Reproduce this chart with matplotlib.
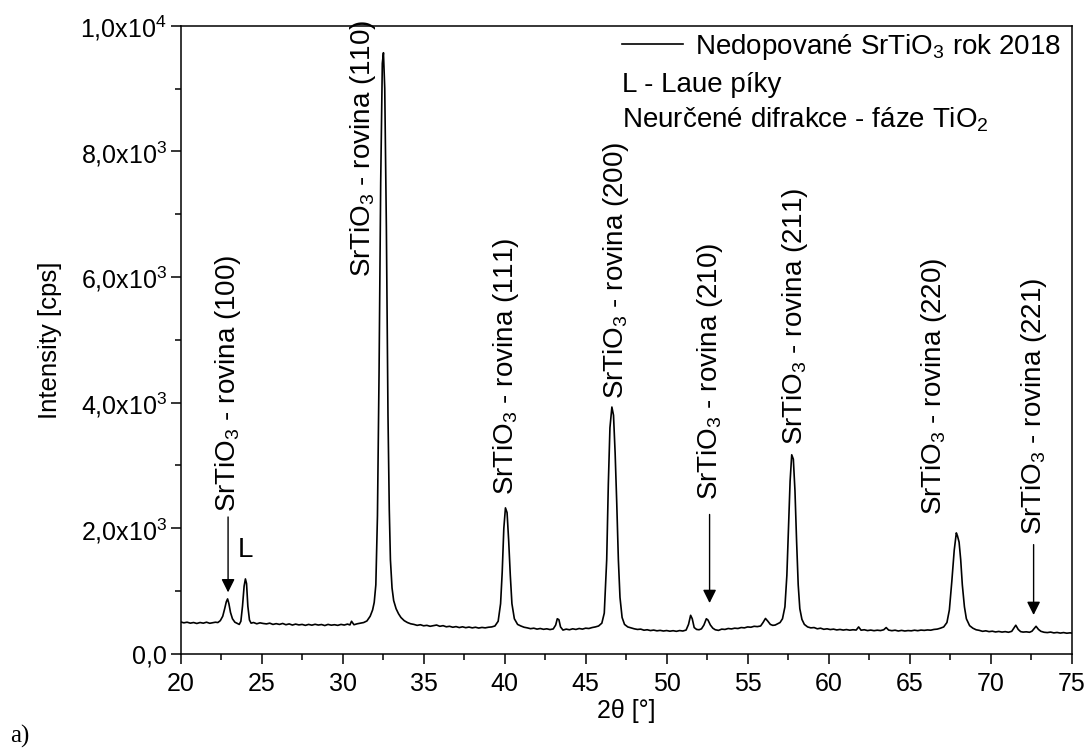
import matplotlib
matplotlib.use('Agg')
import matplotlib.pyplot as plt
from matplotlib.lines import Line2D
from matplotlib.ticker import MultipleLocator, FuncFormatter

plt.rcParams['font.family'] = ['Liberation Sans', 'DejaVu Sans']
plt.rcParams['mathtext.fontset'] = 'custom'
plt.rcParams['mathtext.rm'] = 'Liberation Sans'
plt.rcParams['mathtext.it'] = 'Liberation Sans:italic'

# --- data ---
two_theta = [
    20.0, 20.2, 20.4, 20.6, 20.8, 21.0, 21.2, 21.4, 21.6, 21.8, 22.0, 22.15, 22.3,
    22.45, 22.6, 22.72, 22.82, 22.9, 22.98, 23.08, 23.2, 23.35, 23.5, 23.62,
    23.72, 23.82, 23.92, 24.0, 24.07, 24.15, 24.25, 24.35, 24.5,
    24.7, 24.9, 25.1, 25.3, 25.5, 25.7, 25.9, 26.1, 26.3, 26.5, 26.7, 26.9,
    27.1, 27.3, 27.5, 27.7, 27.9, 28.1, 28.3, 28.5, 28.7, 28.9, 29.1, 29.3,
    29.5, 29.7, 29.9, 30.1, 30.3, 30.45, 30.55, 30.7, 30.9, 31.1,
    31.3, 31.5, 31.7, 31.85, 31.95, 32.05, 32.15, 32.25, 32.35, 32.45, 32.52,
    32.6, 32.7, 32.8, 32.88, 32.95, 33.05, 33.15, 33.3, 33.45, 33.6, 33.8,
    34.0, 34.2, 34.4,
    34.6, 34.8, 35.0, 35.2, 35.4, 35.6, 35.8, 36.0, 36.2, 36.4, 36.6, 36.8,
    37.0, 37.2, 37.4, 37.6, 37.8, 38.0, 38.2, 38.4, 38.6, 38.8,
    39.0, 39.2, 39.4, 39.6, 39.75, 39.85, 39.95, 40.05, 40.15, 40.25, 40.35,
    40.45, 40.6, 40.8, 41.0, 41.2,
    41.4, 41.6, 41.8, 42.0, 42.2, 42.4, 42.6, 42.8, 43.0,
    43.15, 43.25, 43.35, 43.45, 43.6, 43.8, 44.0, 44.2, 44.4, 44.6, 44.8,
    45.0, 45.2, 45.4, 45.6, 45.8, 46.0,
    46.15, 46.3, 46.4, 46.5, 46.62, 46.72, 46.82, 46.92, 47.02, 47.12, 47.25,
    47.4, 47.6, 47.8, 48.0, 48.2, 48.4, 48.6, 48.8, 49.0, 49.2, 49.4, 49.6,
    49.8, 50.0, 50.2, 50.4, 50.6, 50.8, 51.0, 51.2,
    51.35, 51.48, 51.58, 51.7, 51.85, 52.0, 52.15, 52.3, 52.45, 52.55, 52.7,
    52.85, 53.0, 53.2, 53.4, 53.6, 53.8, 54.0, 54.2, 54.4, 54.6, 54.8, 55.0,
    55.2, 55.4, 55.6, 55.8, 55.95, 56.1, 56.25, 56.4, 56.55, 56.7, 56.85,
    57.0, 57.15,
    57.3, 57.42, 57.52, 57.62, 57.72, 57.82, 57.92, 58.02, 58.12, 58.22,
    58.35, 58.5, 58.7, 58.9, 59.1, 59.3, 59.5, 59.7, 59.9, 60.1, 60.3, 60.5,
    60.7, 60.9, 61.1, 61.3, 61.5, 61.7, 61.85, 62.0, 62.2, 62.4, 62.6, 62.8,
    63.0, 63.2, 63.4, 63.55, 63.7, 63.9, 64.1, 64.3, 64.5, 64.7, 64.9, 65.1,
    65.3, 65.5, 65.7, 65.9, 66.1, 66.3, 66.5, 66.7, 66.9, 67.1,
    67.3, 67.45, 67.6, 67.75, 67.88, 67.95, 68.05, 68.15, 68.25, 68.38, 68.5,
    68.7, 68.9, 69.1, 69.3, 69.5, 69.7, 69.9, 70.1, 70.3, 70.5, 70.7, 70.9,
    71.1, 71.3, 71.45, 71.55, 71.7, 71.85, 72.0, 72.2, 72.4, 72.55, 72.7,
    72.8, 72.95, 73.1, 73.3, 73.5, 73.7, 73.9, 74.1, 74.3, 74.5, 74.7, 74.9,
    75.0,
]

intensity = [
    510, 495, 505, 490, 500, 485, 500, 490, 505, 488, 498, 505, 500,
    530, 600, 720, 830, 876, 800, 660, 560, 505, 485, 470,
    520, 760, 1080, 1194, 1120, 760, 540, 490, 500,
    480, 495, 485, 478, 490, 470, 482, 470, 485, 465, 478, 460,
    475, 462, 470, 455, 470, 458, 472, 460, 468, 452, 470, 458,
    465, 455, 470, 460, 475, 462, 520, 465, 480, 490,
    500, 525, 600, 700, 820, 1100, 2200, 4500, 7500, 9400, 9570,
    9000, 6800, 3800, 2300, 1500, 1050, 850, 720, 640, 580, 530,
    500, 480, 470,
    455, 465, 448, 455, 440, 450, 460, 440, 450, 432, 440, 425,
    435, 420, 432, 418, 428, 415, 425, 412, 422, 415,
    425, 430, 445, 520, 800, 1300, 2000, 2325, 2250, 1800, 1250,
    800, 560, 470, 445, 425,
    415, 402, 410, 395, 405, 392, 400, 388, 398,
    460, 560, 545, 430, 380, 395, 385, 400, 390, 405, 395,
    410, 405, 420, 430, 445, 490,
    650, 1500, 2700, 3600, 3930, 3800, 3200, 2400, 1500, 900, 580,
    470, 430, 415, 400, 390, 395, 378, 385, 372, 380, 368, 375,
    365, 372, 362, 370, 360, 372, 365, 380,
    470, 615, 560, 420, 390, 385, 400, 460, 560, 540, 460,
    410, 385, 375, 395, 390, 405, 398, 410, 405, 420, 415, 430,
    425, 440, 435, 445, 500, 565, 520, 470, 455, 460, 480,
    500, 560,
    750, 1250, 2000, 2750, 3170, 3100, 2600, 1800, 1100, 720,
    550, 470, 430, 415, 420, 400, 410, 392, 400, 388, 395, 382,
    390, 380, 388, 378, 385, 380, 430, 378, 385, 372, 380, 370,
    378, 372, 385, 420, 380, 370, 378, 365, 375, 365, 372, 368,
    378, 370, 380, 375, 382, 378, 390, 395, 410, 430,
    500, 700, 1150, 1650, 1927, 1880, 1780, 1500, 1100, 750, 560,
    450, 410, 385, 375, 360, 368, 355, 362, 350, 358, 348, 355,
    345, 360, 420, 457, 390, 355, 348, 352, 345, 362, 410,
    440, 390, 360, 345, 340, 348, 335, 342, 332, 340, 330, 336,
    332,
]

# reflection labels: text x, text bottom y, arrow start / tip (None = no arrow)
plane_labels = ['(100)', '(110)', '(111)', '(200)', '(210)', '(211)', '(220)', '(221)']
label_x = [22.93, 31.25, 40.1, 46.85, 52.65, 57.95, 66.5, 72.65]
label_y = [2260, 6000, 2530, 4060, 2450, 3330, 2215, 1900]
arrow_from = [2180, None, None, None, 2220, None, None, 1740]
arrow_to = [980, None, None, None, 810, None, None, 620]

laue_x = [24.0]
laue_y = [1450]


def y_fmt(v, pos):
    if v == 0:
        return '0,0'
    exp = 3 if v < 10000 else 4
    mant = v / 10 ** exp
    return ('%.1f' % mant).replace('.', ',') + r'x10$^{%d}$' % exp


fig = plt.figure(figsize=(10.88, 7.56), dpi=100)
ax = fig.add_axes([0.166, 0.135, 0.819, 0.831])

ax.plot(two_theta, intensity, color='black', lw=1.2)

ax.set_xlim(20, 75)
ax.set_ylim(0, 10000)
ax.xaxis.set_major_locator(MultipleLocator(5))
ax.xaxis.set_minor_locator(MultipleLocator(2.5))
ax.yaxis.set_major_locator(MultipleLocator(2000))
ax.yaxis.set_minor_locator(MultipleLocator(1000))
ax.yaxis.set_major_formatter(FuncFormatter(y_fmt))

ax.tick_params(which='both', direction='out', top=False, right=False,
               labelsize=18, width=1.1, colors='black')
ax.tick_params(axis='x', which='both', pad=6)
ax.tick_params(axis='y', which='both', pad=3)
ax.tick_params(which='major', length=7)
ax.tick_params(which='minor', length=4)
for sp in ax.spines.values():
    sp.set_linewidth(1.1)

ax.set_xlabel('2θ [°]', fontsize=18, labelpad=2)
ax.set_ylabel('Intensity [cps]', fontsize=18.5, labelpad=13)

# annotations of the SrTiO3 reflections
for lab, x, y, a0, a1 in zip(plane_labels, label_x, label_y, arrow_from, arrow_to):
    ax.text(x, y, r'SrTiO$_3$ - rovina ' + lab, rotation=90, fontsize=20,
            ha='center', va='bottom')
    if a0 is not None:
        ax.annotate('', xy=(x, a1), xytext=(x, a0),
                    arrowprops=dict(arrowstyle='-|>', color='black', lw=1.0,
                                    mutation_scale=20, shrinkA=0, shrinkB=0))

for x, y in zip(laue_x, laue_y):
    ax.text(x, y, 'L', fontsize=20, ha='center', va='bottom')

# legend block
handle = Line2D([], [], color='black', lw=1.2)
ax.legend([handle], [r'Nedopované SrTiO$_3$ rok 2018'], loc='upper left',
          bbox_to_anchor=(0.495, 0.99), frameon=False, fontsize=20,
          handlelength=2.2, handletextpad=0.43, borderpad=0, borderaxespad=0)
ax.text(0.495, 0.895, 'L - Laue píky', transform=ax.transAxes, fontsize=20,
        ha='left', va='baseline')
ax.text(0.495, 0.838, r'Neurčené difrakce - fáze TiO$_2$', transform=ax.transAxes,
        fontsize=20, ha='left', va='baseline')

fig.text(0.009, 0.026, 'a)', fontsize=18, family=['Liberation Serif'],
         ha='left', va='center')

fig.savefig('out.png', dpi=100)
